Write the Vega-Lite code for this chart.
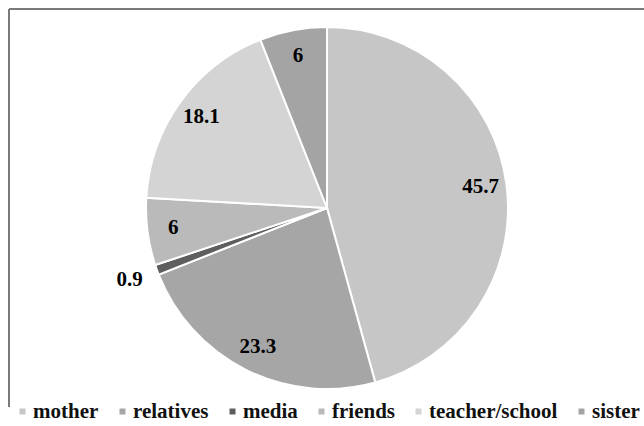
{
  "$schema": "https://vega.github.io/schema/vega-lite/v6.json",
  "width": 636,
  "height": 398,
  "autosize": {"type": "none"},
  "padding": {"left": 9, "top": 9, "right": 0, "bottom": 19},
  "background": "white",
  "view": {"stroke": "#7a7a7a", "strokeWidth": 2, "strokeDash": [636, 1034, 398, 0]},
  "config": {
    "text": {"font": "Liberation Serif, DejaVu Serif, serif", "fontWeight": "bold", "fontSize": 21}
  },
  "data": {
    "values": [
      {"label": "mother", "value": 45.7, "idx": 1},
      {"label": "relatives", "value": 23.3, "idx": 2},
      {"label": "media", "value": 0.9, "idx": 3},
      {"label": "friends", "value": 6, "idx": 4},
      {"label": "teacher/school", "value": 18.1, "idx": 5},
      {"label": "sister", "value": 6, "idx": 6}
    ]
  },
  "encoding": {
    "theta": {"field": "value", "type": "quantitative", "stack": true},
    "order": {"field": "idx", "type": "quantitative"}
  },
  "layer": [
    {
      "mark": {"type": "arc", "outerRadius": 181, "stroke": "white", "strokeWidth": 2},
      "encoding": {
        "color": {
          "field": "label",
          "type": "nominal",
          "scale": {
            "domain": ["mother", "relatives", "media", "friends", "teacher/school", "sister"],
            "range": ["#c6c6c6", "#a6a6a6", "#5e5e5e", "#bababa", "#d4d4d4", "#a4a4a4"]
          },
          "legend": {
            "orient": "none",
            "direction": "horizontal",
            "columns": 6,
            "gridAlign": "none",
            "legendX": 3,
            "legendY": 392,
            "title": null,
            "symbolType": "square",
            "symbolSize": 36,
            "symbolStrokeWidth": 0,
            "labelFont": "Liberation Serif, DejaVu Serif, serif",
            "labelFontWeight": "bold",
            "labelFontSize": 21,
            "labelColor": "#111111",
            "labelOffset": 0,
            "labelLimit": 300,
            "columnPadding": 13
          }
        }
      }
    },
    {
      "mark": {"type": "text", "radius": 155, "fill": "black"},
      "encoding": {
        "detail": {"field": "label", "type": "nominal"},
        "text": {"field": "value", "type": "quantitative"},
        "opacity": {"condition": {"test": "datum.label === 'media'", "value": 0}, "value": 1}
      }
    },
    {
      "mark": {"type": "text", "radius": 210, "fill": "black"},
      "encoding": {
        "detail": {"field": "label", "type": "nominal"},
        "text": {"field": "value", "type": "quantitative"},
        "opacity": {"condition": {"test": "datum.label === 'media'", "value": 1}, "value": 0}
      }
    }
  ]
}
